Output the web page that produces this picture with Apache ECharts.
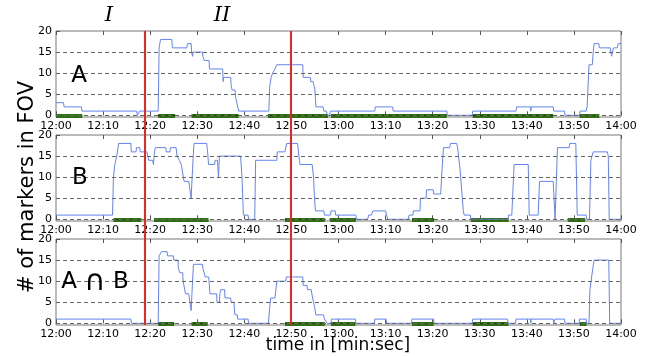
<!DOCTYPE html>
<html><head><meta charset="utf-8">
<script src="https://cdn.jsdelivr.net/npm/echarts@6/dist/echarts.min.js"></script>
<style>html,body{margin:0;padding:0;background:#fff}#c{width:651px;height:356px}</style>
</head><body><div id="c"></div>
<script>
// ---- data (minutes after 12:00, number of markers) ----
const xTickLabels = ['12:00','12:10','12:20','12:30','12:40','12:50','13:00','13:10','13:20','13:30','13:40','13:50','14:00'];
const yTicks = [0,5,10,15,20];
const panelLabels = ['A','B','A \u2229 B'];
const phaseLabels = ['I','II'];
const phaseLines = [18.8, 49.9];

const aT = [0,1.6,1.7,5.4,5.5,17.1,17.3,17.5,17.7,21.7,21.9,22.2,24.6,24.7,27.8,27.9,28.7,28.8,29.0,29.1,31.1,31.2,31.5,32.5,32.6,35.4,35.5,35.6,37.1,37.2,37.4,38.0,38.2,38.4,38.6,38.8,45.2,45.4,45.7,46.0,46.5,46.9,52.4,52.5,54.0,54.1,54.6,54.8,55.0,55.1,55.2,56.7,56.9,57.4,57.6,58.1,58.3,67.7,67.8,71.5,71.6,83.0,83.1,88.4,88.5,97.7,97.8,100.8,100.85,100.9,105.6,105.7,108.0,108.1,111.2,111.3,112.6,112.8,113.2,113.9,114.1,114.3,115.3,115.4,117.7,118.0,118.2,118.4,119.2,119.4,120];
const aV = [3,3,2,2,1,1,0,0,1,1,16,18,18,16,16,17,17,15,14,15,15,14,13,13,11,11,8,9,9,7,6,6,4,3,2,1,1,7,9,10,11,12,12,9,9,8,8,7,6,4,2,2,1,1,0,0,1,1,2,2,1,1,0,0,1,1,2,2,1,2,2,1,1,0,0,1,1,2,12,12,15,17,17,16,16,14,14,16,16,17,17];

const bT = [0,12.0,12.2,12.5,12.9,13.3,15.9,16.0,17.0,17.1,17.8,17.9,19.3,19.5,19.7,20.5,20.7,20.9,21.1,23.3,23.4,24.2,24.3,25.5,25.7,26.2,26.6,26.9,27.2,28.2,28.7,29.0,29.3,32.0,32.2,32.4,33.7,33.8,34.3,34.5,34.7,39.2,39.5,39.8,40.8,40.9,42.2,42.4,46.9,47.0,48.6,49.0,51.3,51.5,51.7,51.8,54.4,54.7,54.9,55.1,56.9,57.0,58.3,58.4,59.3,59.4,63.7,63.8,66.2,66.4,67.0,67.3,70.0,70.2,70.5,74.8,75.0,75.8,75.9,77.3,77.4,78.6,78.7,80.1,80.2,81.7,82.0,82.3,83.6,83.8,85.1,85.3,85.8,86.3,86.5,86.7,88.0,88.1,96.0,96.1,96.8,97.3,100.3,100.5,102.4,102.7,105.6,106.0,106.5,109.0,109.1,110.4,110.7,112.6,112.7,113.3,113.6,114.1,117.1,117.3,117.5,120];
const bV = [1,1,10,13,15,18,18,16,16,17,17,16,16,15,14,14,13,16,17,17,16,16,17,17,15,14,13,11,9,9,5,12,18,18,16,13,13,14,14,10,15,15,10,1,1,0,0,14,14,16,16,18,18,16,14,13,13,10,5,2,2,1,1,2,2,1,1,0,0,1,1,2,2,1,0,0,1,1,2,2,5,5,7,7,6,6,12,17,17,18,18,17,12,5,2,1,1,0,0,1,1,13,13,1,1,9,9,0,17,17,18,18,1,1,0,0,14,16,16,15,0,0];

const cT = [0,15.9,16.0,21.7,21.9,22.4,23.6,23.7,24.9,25.0,25.9,26.0,26.3,26.9,27.0,27.5,28.2,28.7,29.0,29.2,31.1,31.2,31.6,31.7,32.4,32.5,32.7,34.1,34.2,34.7,34.8,35.0,35.8,35.9,37.1,37.2,37.8,37.9,38.0,38.5,38.6,40.8,40.9,45.1,45.4,45.6,46.5,46.9,48.8,48.9,52.4,52.5,53.3,53.4,54.2,54.5,54.9,55.2,56.8,57.0,57.4,57.6,58.4,58.5,63.6,63.7,67.6,67.7,70.1,70.2,75.5,75.6,80.2,80.3,88.4,88.5,95.9,96.0,97.6,97.7,100.8,100.85,100.9,105.6,105.7,105.9,106.0,108.0,108.1,111.1,111.2,112.6,112.7,113.2,113.4,113.8,114.0,114.3,117.4,117.6,120];
const cV = [1,1,0,0,16,17,17,16,16,15,15,13,12,12,10,7,7,3,10,14,14,13,13,11,11,10,7,7,5,5,7,8,8,6,6,5,5,3,2,2,1,1,0,0,4,6,6,10,10,11,11,9,9,8,8,6,4,2,2,1,1,0,0,1,1,0,0,1,1,0,0,1,1,0,0,1,1,0,0,1,1,0,1,1,0,0,1,1,0,0,1,1,0,0,8,8,13,15,15,0,0];

// green segments (start, end) in minutes
const aGreenStart = [0,21.7,28.8,45.0,58.4,88.5,111.2];
const aGreenEnd   = [5.6,25.3,38.8,57.8,83.0,105.6,115.4];
const bGreenStart = [12.2,20.8,48.6,58.2,75.6,88.1,108.7];
const bGreenEnd   = [18.1,32.4,57.1,63.7,80.3,96.1,112.4];
const cGreenStart = [21.7,28.8,48.6,58.4,75.6,88.5,111.2];
const cGreenEnd   = [25.1,32.2,57.1,63.6,80.2,96.1,112.7];

// ---- chart ----
const chart = echarts.init(document.getElementById('c'), null, {renderer:'canvas'});
const FONT = '"DejaVu Sans", sans-serif';
const panels = [
  {t:aT, v:aV, gs:aGreenStart, ge:aGreenEnd, top:31},
  {t:bT, v:bV, gs:bGreenStart, ge:bGreenEnd, top:135},
  {t:cT, v:cV, gs:cGreenStart, ge:cGreenEnd, top:239}
];
const H = 86, LEFT = 56, RIGHT = 30;
const grid = [], xAxis = [], yAxis = [], series = [];
panels.forEach((p, i) => {
  grid.push({left:LEFT, right:RIGHT, top:p.top, height:H, show:true, borderColor:'#777', borderWidth:1, backgroundColor:'transparent'});
  xAxis.push({type:'value', gridIndex:i, min:0, max:120, interval:10,
    axisLine:{show:false}, splitLine:{show:false},
    axisTick:{show:true, inside:true, length:4, lineStyle:{color:'#555'}},
    axisLabel:{color:'#000', fontFamily:FONT, fontSize:11, margin:4,
      formatter: v => xTickLabels[Math.round(v/10)]}});
  xAxis.push({type:'value', gridIndex:i, min:0, max:120, interval:10, position:'top',
    axisLine:{show:false}, splitLine:{show:false}, axisLabel:{show:false},
    axisTick:{show:true, inside:true, length:4, lineStyle:{color:'#555'}}});
  yAxis.push({type:'value', gridIndex:i, min:-0.4, max:20,
    axisLine:{show:false},
    axisTick:{show:true, inside:true, length:4, customValues:yTicks, lineStyle:{color:'#555'}},
    axisLabel:{color:'#000', fontFamily:FONT, fontSize:11, margin:4, customValues:yTicks},
    splitLine:{show:false}});
  // dashed gridlines
  series.push({type:'line', xAxisIndex:2*i, yAxisIndex:i, data:[], silent:true,
    markLine:{silent:true, symbol:'none', label:{show:false}, animation:false,
      lineStyle:{color:'#666', type:[4,3], width:1},
      data: yTicks.filter(y => y < 20).map(y => ({yAxis:y}))}, z:1});
  // green segments
  const segs = p.gs.map((s, k) => ({coords:[[s,0],[p.ge[k],0]]}));
  series.push({type:'lines', coordinateSystem:'cartesian2d', xAxisIndex:2*i, yAxisIndex:i,
    data:segs, silent:true, lineStyle:{color:'#2f6e12', width:4, opacity:1}, z:2});
  series.push({type:'lines', coordinateSystem:'cartesian2d', xAxisIndex:2*i, yAxisIndex:i,
    data:segs, silent:true, lineStyle:{color:'#1a4204', width:1, type:[4,3], opacity:1}, z:3});
  // blue count line
  series.push({type:'line', xAxisIndex:2*i, yAxisIndex:i, showSymbol:false, silent:true,
    data:p.t.map((t,k)=>[t,p.v[k]]), lineStyle:{color:'#6484f0', width:1}, z:4, animation:false});
});
// overlay grid for red phase lines
grid.push({left:LEFT, right:RIGHT, top:31, bottom:356-325, show:false});
xAxis.push({type:'value', gridIndex:3, min:0, max:120, show:false});
yAxis.push({type:'value', gridIndex:3, min:0, max:1, show:false});
series.push({type:'lines', coordinateSystem:'cartesian2d', xAxisIndex:6, yAxisIndex:3, silent:true,
  data: phaseLines.map(x => ({coords:[[x,0],[x,1]]})),
  lineStyle:{color:'#e8281e', width:2, opacity:1}, z:10});

const capParts = panelLabels[2].split(' ');
const graphic = [
  {type:'text', x:109, y:16, style:{text:phaseLabels[0], font:'italic 21px "DejaVu Serif", serif', fill:'#000', textAlign:'center', textVerticalAlign:'middle'}},
  {type:'text', x:222, y:16, style:{text:phaseLabels[1], font:'italic 21px "DejaVu Serif", serif', fill:'#000', textAlign:'center', textVerticalAlign:'middle'}},
  {type:'text', x:79, y:76, style:{text:panelLabels[0], font:'23px '+FONT, fill:'#000', textAlign:'center', textVerticalAlign:'middle'}, z:20},
  {type:'text', x:80, y:178, style:{text:panelLabels[1], font:'23px '+FONT, fill:'#000', textAlign:'center', textVerticalAlign:'middle'}, z:20},
  {type:'text', x:95, y:282, z:20, style:{
    text: capParts[0] + ' {c|' + capParts[1] + '} ' + capParts[2],
    font:'23px '+FONT, fill:'#000', textAlign:'center', textVerticalAlign:'middle',
    rich:{c:{fontSize:29, fontFamily:'"DejaVu Sans", sans-serif', fill:'#000'}}}},
  {type:'text', x:28, y:187, rotation:Math.PI/2, style:{text:'# of markers in FOV', font:'21px '+FONT, fill:'#000', textAlign:'center', textVerticalAlign:'middle'}},
  {type:'text', x:338, y:346, style:{text:'time in [min:sec]', font:'17px '+FONT, fill:'#000', textAlign:'center', textVerticalAlign:'middle'}}
];

chart.setOption({animation:false, grid, xAxis, yAxis, series, graphic});
</script></body></html>
